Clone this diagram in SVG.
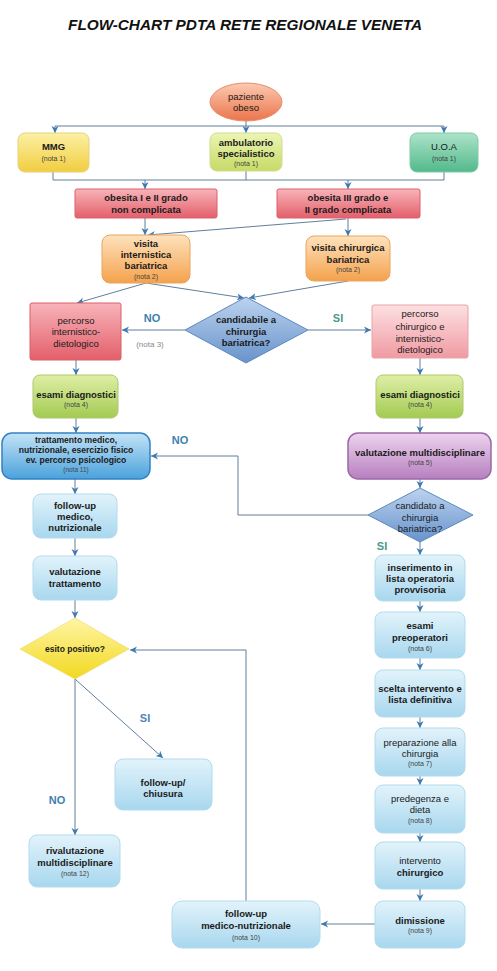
<svg xmlns="http://www.w3.org/2000/svg" width="497" height="971" viewBox="0 0 497 971">
<style>
.t{font-family:"Liberation Sans",Arial,sans-serif;font-weight:bold;font-size:9.5px;text-anchor:middle;fill:#1a1a1a}
.r{font-family:"Liberation Sans",Arial,sans-serif;font-size:9.5px;text-anchor:middle;fill:#1a1a1a}
.n{font-family:"Liberation Sans",Arial,sans-serif;font-size:7px;text-anchor:middle;fill:#444}
.lab{font-family:"Liberation Sans",Arial,sans-serif;font-weight:bold;font-size:11px;text-anchor:middle}
.no{fill:#3f7fae}
.si{fill:#4a9a8a}
.c{fill:none;stroke:#607f9c;stroke-width:1}
.a{marker-end:url(#arr)}
.lb{fill:url(#gLB);stroke:#b3dbee;stroke-width:1}
</style>
<defs>
<marker id="arr" markerUnits="userSpaceOnUse" markerWidth="8" markerHeight="8" refX="7" refY="4" orient="auto">
<path d="M0,0.5 L7,4 L0,7.5 L2,4 z" fill="#3d7ab0"/>
</marker>
<linearGradient id="gLB" x1="0" y1="0" x2="0" y2="1"><stop offset="0" stop-color="#e2f3fb"/><stop offset="1" stop-color="#a8d7ee"/></linearGradient>
<linearGradient id="gTR" x1="0" y1="0" x2="0" y2="1"><stop offset="0" stop-color="#c4e3f6"/><stop offset="1" stop-color="#4aa2dc"/></linearGradient>
<linearGradient id="gPU" x1="0" y1="0" x2="0" y2="1"><stop offset="0" stop-color="#edd3ee"/><stop offset="1" stop-color="#b780c0"/></linearGradient>
<linearGradient id="gGR" x1="0" y1="0" x2="0" y2="1"><stop offset="0" stop-color="#dfeea6"/><stop offset="1" stop-color="#a3cb52"/></linearGradient>
<linearGradient id="gRD" x1="0" y1="0" x2="0" y2="1"><stop offset="0" stop-color="#f8b4b9"/><stop offset="1" stop-color="#e35f6b"/></linearGradient>
<linearGradient id="gPK" x1="0" y1="0" x2="0" y2="1"><stop offset="0" stop-color="#fde0e2"/><stop offset="1" stop-color="#f09aa2"/></linearGradient>
<linearGradient id="gOR" x1="0" y1="0" x2="0" y2="1"><stop offset="0" stop-color="#fee2bc"/><stop offset="1" stop-color="#f4a24d"/></linearGradient>
<linearGradient id="gYE" x1="0" y1="0" x2="0" y2="1"><stop offset="0" stop-color="#fcf0a4"/><stop offset="1" stop-color="#f1cd40"/></linearGradient>
<linearGradient id="gLG" x1="0" y1="0" x2="0" y2="1"><stop offset="0" stop-color="#ecf5b4"/><stop offset="1" stop-color="#c6da66"/></linearGradient>
<linearGradient id="gTE" x1="0" y1="0" x2="0" y2="1"><stop offset="0" stop-color="#ace3c9"/><stop offset="1" stop-color="#52b98b"/></linearGradient>
<linearGradient id="gEL" x1="0" y1="0" x2="0" y2="1"><stop offset="0" stop-color="#fccab2"/><stop offset="1" stop-color="#eb744a"/></linearGradient>
<linearGradient id="gDB" x1="0" y1="0" x2="0" y2="1"><stop offset="0" stop-color="#bcd3ee"/><stop offset="1" stop-color="#6893cc"/></linearGradient>
<linearGradient id="gDY" x1="0" y1="0" x2="0" y2="1"><stop offset="0" stop-color="#fff6a6"/><stop offset="1" stop-color="#f2d81e"/></linearGradient>
</defs>
<rect width="497" height="971" fill="#ffffff"/>
<text x="245" y="30" font-family="'Liberation Sans',Arial,sans-serif" font-size="14" font-weight="bold" font-style="italic" text-anchor="middle" fill="#111" textLength="354" lengthAdjust="spacingAndGlyphs">FLOW-CHART PDTA RETE REGIONALE VENETA</text>

<g id="connectors">
<path class="c a" d="M246,121 V133"/>
<path class="c" d="M55,126 H444"/>
<path class="c a" d="M55,126 V133"/>
<path class="c a" d="M444,126 V133"/>
<path class="c" d="M53,172 V180 M246,171 V180 M444,172 V180 M53,180 H444"/>
<path class="c a" d="M145,180 V189"/>
<path class="c a" d="M348,180 V189"/>
<path class="c a" d="M145,218 V235"/>
<path class="c a" d="M348,218 V236"/>
<path class="c a" d="M346,219 L148,235"/>
<path class="c a" d="M146,283 L77,303"/>
<path class="c a" d="M146,283 L244,298"/>
<path class="c a" d="M348,281 L249,298"/>
<path class="c a" d="M185,330 H122"/>
<path class="c a" d="M308,330 H371"/>
<path class="c a" d="M76,360 V375"/>
<path class="c a" d="M420,358 V375"/>
<path class="c a" d="M76,418 V433"/>
<path class="c a" d="M420,418 V433"/>
<path class="c a" d="M420,479 V488"/>
<path class="c a" d="M368,515 H238 V456 H151"/>
<path class="c a" d="M420,542 V555"/>
<path class="c a" d="M420,601 V612"/>
<path class="c a" d="M420,658 V670"/>
<path class="c a" d="M420,717 V728"/>
<path class="c a" d="M420,776 V785"/>
<path class="c a" d="M420,833 V842"/>
<path class="c a" d="M420,889 V901"/>
<path class="c a" d="M375,924 H321"/>
<path class="c a" d="M246,901 V650 H130"/>
<path class="c a" d="M75,479 V494"/>
<path class="c a" d="M75,538 V556"/>
<path class="c a" d="M75,600 V618"/>
<path class="c a" d="M75,679 V835"/>
<path class="c a" d="M75,679 L163,758"/>
</g>

<g id="labels">
<text class="lab no" x="152" y="322">NO</text>
<text class="n" x="150" y="347" style="font-size:8px;fill:#888">(nota 3)</text>
<text class="lab si" x="338" y="322">SI</text>
<text class="lab no" x="180" y="444">NO</text>
<text class="lab si" x="382" y="550">SI</text>
<text class="lab no" x="145" y="722" style="fill:#4f86b8">SI</text>
<text class="lab no" x="57" y="804">NO</text>
</g>

<g id="paziente">
<ellipse cx="246" cy="102" rx="36" ry="19" fill="url(#gEL)" stroke="#e68d6c"/>
<text class="r" x="246" y="100">paziente</text>
<text class="r" x="246" y="111">obeso</text>
</g>
<g id="mmg">
<rect x="18" y="133" width="71" height="39" rx="7" fill="url(#gYE)" stroke="#e6d27f"/>
<text class="t" x="53.5" y="149.5">MMG</text>
<text class="n" x="53.5" y="160.5">(nota 1)</text>
</g>
<g id="ambulatorio">
<rect x="210" y="133" width="72" height="38" rx="7" fill="url(#gLG)" stroke="#cfdd8e"/>
<text class="t" x="246" y="145.5">ambulatorio</text>
<text class="t" x="246" y="156.5">specialistico</text>
<text class="n" x="246" y="165.5">(nota 1)</text>
</g>
<g id="uoa">
<rect x="410" y="133" width="68" height="39" rx="7" fill="url(#gTE)" stroke="#7fcca8"/>
<text class="r" x="444" y="149.5">U.O.A</text>
<text class="n" x="444" y="160.5">(nota 1)</text>
</g>
<g id="obesita12">
<rect x="75" y="189" width="142" height="29" rx="2" fill="url(#gRD)" stroke="#d9606b"/>
<text class="t" x="146" y="200.5">obesita I  e II grado</text>
<text class="t" x="146" y="212.5">non complicata</text>
</g>
<g id="obesita3">
<rect x="277" y="189" width="143" height="29" rx="2" fill="url(#gRD)" stroke="#d9606b"/>
<text class="t" x="348" y="200.5">obesita III grado e</text>
<text class="t" x="348" y="212.5">II grado complicata</text>
</g>
<g id="visita-internistica">
<rect x="102" y="235" width="88" height="48" rx="8" fill="url(#gOR)" stroke="#e9a560"/>
<text class="t" x="146" y="246.5">visita</text>
<text class="t" x="146" y="257.5">internistica</text>
<text class="t" x="146" y="268.5">bariatrica</text>
<text class="n" x="146" y="278.5">(nota 2)</text>
</g>
<g id="visita-chirurgica">
<rect x="306" y="236" width="84" height="45" rx="8" fill="url(#gOR)" stroke="#e9a560"/>
<text class="t" x="348" y="250.5">visita chirurgica</text>
<text class="t" x="348" y="262.5">bariatrica</text>
<text class="n" x="348" y="271.5">(nota 2)</text>
</g>
<g id="candidabile">
<polygon points="246,297 308,330 246,363 185,330" fill="url(#gDB)" stroke="#5d89c0"/>
<text class="t" x="246" y="323">candidabile a</text>
<text class="t" x="246" y="335">chirurgia</text>
<text class="t" x="246" y="346">bariatrica?</text>
</g>
<g id="percorso-internistico">
<rect x="30" y="303" width="91" height="57" rx="2" fill="url(#gRD)" stroke="#d9606b"/>
<text class="r" x="76" y="323.5">percorso</text>
<text class="r" x="76" y="334.5">internistico-</text>
<text class="r" x="76" y="346.5">dietologico</text>
</g>
<g id="percorso-chirurgico">
<rect x="372" y="305" width="96" height="53" rx="2" fill="url(#gPK)" stroke="#e6a3a8"/>
<text class="r" x="420" y="316.5">percorso</text>
<text class="r" x="420" y="329.5">chirurgico e</text>
<text class="r" x="420" y="341.5">internistico-</text>
<text class="r" x="420" y="352.5">dietologico</text>
</g>
<g id="esami-sx">
<rect x="33" y="375" width="85" height="43" rx="7" fill="url(#gGR)" stroke="#adc96b"/>
<text class="t" x="76" y="397.5">esami diagnostici</text>
<text class="n" x="76" y="406.5">(nota 4)</text>
</g>
<g id="esami-dx">
<rect x="376" y="375" width="87" height="43" rx="7" fill="url(#gGR)" stroke="#adc96b"/>
<text class="t" x="420" y="397.5">esami diagnostici</text>
<text class="n" x="420" y="406.5">(nota 4)</text>
</g>
<g id="trattamento">
<rect x="2" y="433" width="148" height="46" rx="10" fill="url(#gTR)" stroke="#3282c3" stroke-width="1.5"/>
<text class="t" x="76" y="443" style="font-size:8.6px">trattamento medico,</text>
<text class="t" x="76" y="452.8" style="font-size:8.6px">nutrizionale, esercizio fisico</text>
<text class="t" x="76" y="462.6" style="font-size:8.6px">ev. percorso psicologico</text>
<text class="n" x="76" y="471.5" style="font-size:6.5px">(nota 11)</text>
</g>
<g id="valutazione-multi">
<rect x="348" y="433" width="143" height="46" rx="10" fill="url(#gPU)" stroke="#9a68a6" stroke-width="1.5"/>
<text class="t" x="420" y="455.5">valutazione multidisciplinare</text>
<text class="n" x="420" y="464.5">(nota 5)</text>
</g>
<g id="candidato">
<polygon points="420,488 473,515 420,542 368,515" fill="url(#gDB)" stroke="#5d89c0"/>
<text class="r" x="420" y="508.5">candidato a</text>
<text class="r" x="420" y="520.5">chirurgia</text>
<text class="r" x="420" y="531.5">bariatrica?</text>
</g>
<g id="inserimento">
<rect x="375" y="555" width="90" height="46" rx="8" class="lb"/>
<text class="t" x="420" y="570.5">inserimento in</text>
<text class="t" x="420" y="581.5">lista operatoria</text>
<text class="t" x="420" y="592.5">provvisoria</text>
</g>
<g id="esami-preop">
<rect x="375" y="612" width="90" height="46" rx="8" class="lb"/>
<text class="t" x="420" y="628.5">esami</text>
<text class="t" x="420" y="640.5">preoperatori</text>
<text class="n" x="420" y="650.5">(nota 6)</text>
</g>
<g id="scelta">
<rect x="375" y="670" width="90" height="47" rx="8" class="lb"/>
<text class="t" x="420" y="691.5">scelta intervento e</text>
<text class="t" x="420" y="702.5">lista definitiva</text>
</g>
<g id="preparazione">
<rect x="375" y="728" width="90" height="48" rx="8" class="lb"/>
<text class="r" x="420" y="745.5">preparazione alla</text>
<text class="r" x="420" y="756.5">chirurgia</text>
<text class="n" x="420" y="765.5">(nota 7)</text>
</g>
<g id="predegenza">
<rect x="375" y="785" width="90" height="48" rx="8" class="lb"/>
<text class="r" x="420" y="801.5">predegenza e</text>
<text class="r" x="420" y="813">dieta</text>
<text class="n" x="420" y="822.5">(nota 8)</text>
</g>
<g id="intervento">
<rect x="375" y="842" width="90" height="47" rx="8" class="lb"/>
<text class="r" x="420" y="863.5">intervento</text>
<text class="t" x="420" y="875.5">chirurgico</text>
</g>
<g id="dimissione">
<rect x="375" y="901" width="90" height="47" rx="8" class="lb"/>
<text class="t" x="420" y="923.5">dimissione</text>
<text class="n" x="420" y="932.5">(nota 9)</text>
</g>
<g id="followup-mn">
<rect x="172" y="901" width="148" height="47" rx="10" class="lb"/>
<text class="t" x="246" y="916.5">follow-up</text>
<text class="t" x="246" y="928.5">medico-nutrizionale</text>
<text class="n" x="246" y="939.5">(nota 10)</text>
</g>
<g id="followup-medico">
<rect x="33" y="494" width="84" height="44" rx="8" class="lb"/>
<text class="t" x="75" y="509">follow-up</text>
<text class="t" x="75" y="519.8">medico,</text>
<text class="t" x="75" y="530.6">nutrizionale</text>
</g>
<g id="valutazione-trattamento">
<rect x="33" y="556" width="84" height="44" rx="8" class="lb"/>
<text class="t" x="75" y="574.5">valutazione</text>
<text class="t" x="75" y="586.5">trattamento</text>
</g>
<g id="esito">
<polygon points="75,618 129,649 75,679 20,649" fill="url(#gDY)" stroke="#efe07a" stroke-width="0.8"/>
<text class="t" x="75" y="652" style="font-size:8.5px">esito positivo?</text>
</g>
<g id="chiusura">
<rect x="115" y="759" width="97" height="51" rx="8" class="lb"/>
<text class="t" x="163" y="786">follow-up/</text>
<text class="t" x="163" y="796.5">chiusura</text>
</g>
<g id="rivalutazione">
<rect x="29" y="835" width="91" height="52" rx="8" class="lb"/>
<text class="t" x="75" y="853.5">rivalutazione</text>
<text class="t" x="75" y="865.5">multidisciplinare</text>
<text class="n" x="75" y="875.5">(nota 12)</text>
</g>
</svg>
